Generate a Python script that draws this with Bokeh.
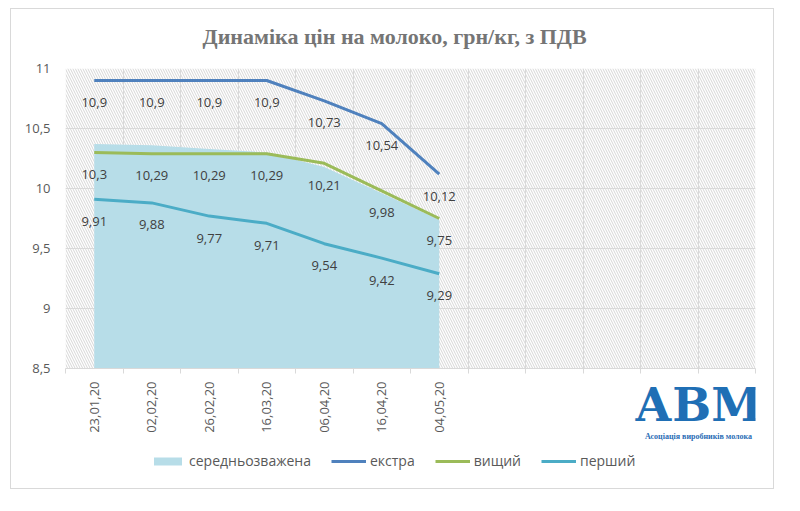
import math
from bokeh.plotting import figure
from bokeh.layouts import column
from bokeh.models import (FixedTicker, BoxAnnotation, Legend, LegendItem, Label, Title,
                          ColumnDataSource, Range1d)
from bokeh.core.properties import value
from bokeh.embed import file_html
from bokeh.resources import INLINE

# ---------------- data ----------------
title_text = "Динаміка цін на молоко, грн/кг, з ПДВ"
dates = ["23,01,20", "02,02,20", "26,02,20", "16,03,20", "06,04,20", "16,04,20", "04,05,20"]
n_slots = 12
weighted = [10.37, 10.36, 10.33, 10.30, 10.18, 9.96, 9.74]
extra = [10.9, 10.9, 10.9, 10.9, 10.73, 10.54, 10.12]
vyshchyi = [10.3, 10.29, 10.29, 10.29, 10.21, 9.98, 9.75]
pershyi = [9.91, 9.88, 9.77, 9.71, 9.54, 9.42, 9.29]
y_ticks = [8.5, 9, 9.5, 10, 10.5, 11]
series_names = ["середньозважена", "екстра", "вищий", "перший"]
logo_text = "АВМ"
logo_sub = "Асоціація виробників молока"


def fmt(v):
    return ("%g" % v).replace(".", ",")


x = [i + 0.5 for i in range(len(dates))]
src = ColumnDataSource(dict(
    x=x, w=weighted, e=extra, v=vyshchyi, p=pershyi,
    el=[fmt(v) for v in extra], vl=[fmt(v) for v in vyshchyi], pl=[fmt(v) for v in pershyi],
))

FONT = "Open Sans"
GRID = "#d9d9d9"
C_AREA, C_E, C_V, C_P = "#b7dde8", "#4f81bd", "#9bbb59", "#4bacc6"


def add_series(fig):
    ra = fig.varea(x="x", y1=y_ticks[0], y2="w", source=src, fill_color=C_AREA)
    re = fig.line("x", "e", source=src, line_color=C_E, line_width=3)
    rv = fig.line("x", "v", source=src, line_color=C_V, line_width=3)
    rp = fig.line("x", "p", source=src, line_color=C_P, line_width=3)
    return [ra, re, rv, rp]


# ---------------- main chart ----------------
p = figure(frame_width=690, frame_height=300, x_range=Range1d(0, n_slots),
           y_range=Range1d(y_ticks[0], y_ticks[-1]),
           output_backend="svg", toolbar_location=None,
           min_border_left=54, min_border_right=18, min_border_top=59, min_border_bottom=72)
p.outline_line_color = None
p.background_fill_color = "white"
p.border_fill_color = "white"

p.title.text = title_text
p.title.align = "left"
p.title.offset = 137
p.title.text_font = "Liberation Serif"
p.title.text_font_style = "bold"
p.title.text_font_size = "22px"
p.title.text_color = "#757575"
p.add_layout(Title(text=" ", text_font_size="3px"), "above")

# hatched background
p.add_layout(BoxAnnotation(fill_alpha=0, line_color=None, hatch_pattern="\\",
                           hatch_color="#c4c4c4", hatch_scale=5, hatch_weight=0.7, level="image"))

# axes
p.xaxis.ticker = FixedTicker(ticks=x, minor_ticks=list(range(n_slots + 1)))
p.xaxis.major_label_overrides = {xi: d for xi, d in zip(x, dates)}
p.xaxis.major_tick_line_color = None
p.xaxis.major_tick_out = 0
p.xaxis.major_tick_in = 0
p.xaxis.minor_tick_out = 5
p.xaxis.minor_tick_in = 0
p.xaxis.minor_tick_line_color = GRID
p.xaxis.axis_line_color = GRID
p.xaxis.major_label_orientation = math.pi / 2
p.xaxis.major_label_standoff = 8
p.xaxis.major_label_text_font = FONT
p.xaxis.major_label_text_font_size = "13px"
p.xaxis.major_label_text_color = "#595959"

p.yaxis.ticker = FixedTicker(ticks=y_ticks)
p.yaxis.major_label_overrides = {t: fmt(t) for t in y_ticks}
p.yaxis.axis_line_color = None
p.yaxis.major_tick_line_color = None
p.yaxis.minor_tick_line_color = None
p.yaxis.major_tick_out = 0
p.yaxis.major_label_standoff = 15
p.yaxis.major_label_text_font = FONT
p.yaxis.major_label_text_font_size = "13px"
p.yaxis.major_label_text_color = "#595959"

p.xgrid.ticker = FixedTicker(ticks=list(range(n_slots + 1)))
p.xgrid.grid_line_color = GRID
p.ygrid.grid_line_color = GRID

add_series(p)

for ycol, tcol in (("e", "el"), ("v", "vl"), ("p", "pl")):
    p.text(x="x", y=ycol, text=tcol, source=src, text_align="center", text_baseline="middle",
           y_offset=22, text_font=value(FONT), text_font_size="13px", text_color="#404040")

# ---------------- legend + logo strip (overlaps the axis area) ----------------
# its ranges keep the same series out of view, so they only feed the legend swatches
q = figure(width=762, height=108, x_range=Range1d(0, 1), y_range=Range1d(0, 1),
           output_backend="svg", toolbar_location=None,
           x_axis_location=None, y_axis_location=None, min_border=0,
           margin=(-60, 0, 0, 0))
q.outline_line_color = None
q.background_fill_alpha = 0
q.border_fill_alpha = 0
q.grid.visible = False

legend_renderers = add_series(q)

legend = Legend(items=[LegendItem(label=n, renderers=[r])
                       for n, r in zip(series_names, legend_renderers)],
                orientation="horizontal", location=(85, 18),
                glyph_width=35, glyph_height=10, label_standoff=4, spacing=20,
                padding=0, margin=0,
                label_text_font=FONT, label_text_font_size="14px", label_text_color="#595959",
                background_fill_alpha=0, border_line_color=None)
q.add_layout(legend)

q.add_layout(Label(x=687, y=24, x_units="canvas", y_units="canvas", text=logo_text,
                   text_align="center", text_baseline="middle",
                   text_font="DejaVu Serif", text_font_style="bold", text_font_size="46px",
                   text_color="#1f6fb5"))
q.add_layout(Label(x=687, y=56, x_units="canvas", y_units="canvas", text=logo_sub,
                   text_align="center", text_baseline="middle",
                   text_font="Liberation Serif", text_font_style="bold", text_font_size="8px",
                   text_color="#2a6db5"))

layout = column(p, q, margin=(8, 0, 0, 10), styles={"border": "1px solid #d9d9d9"})

open("out.html", "w").write(file_html(layout, INLINE))
